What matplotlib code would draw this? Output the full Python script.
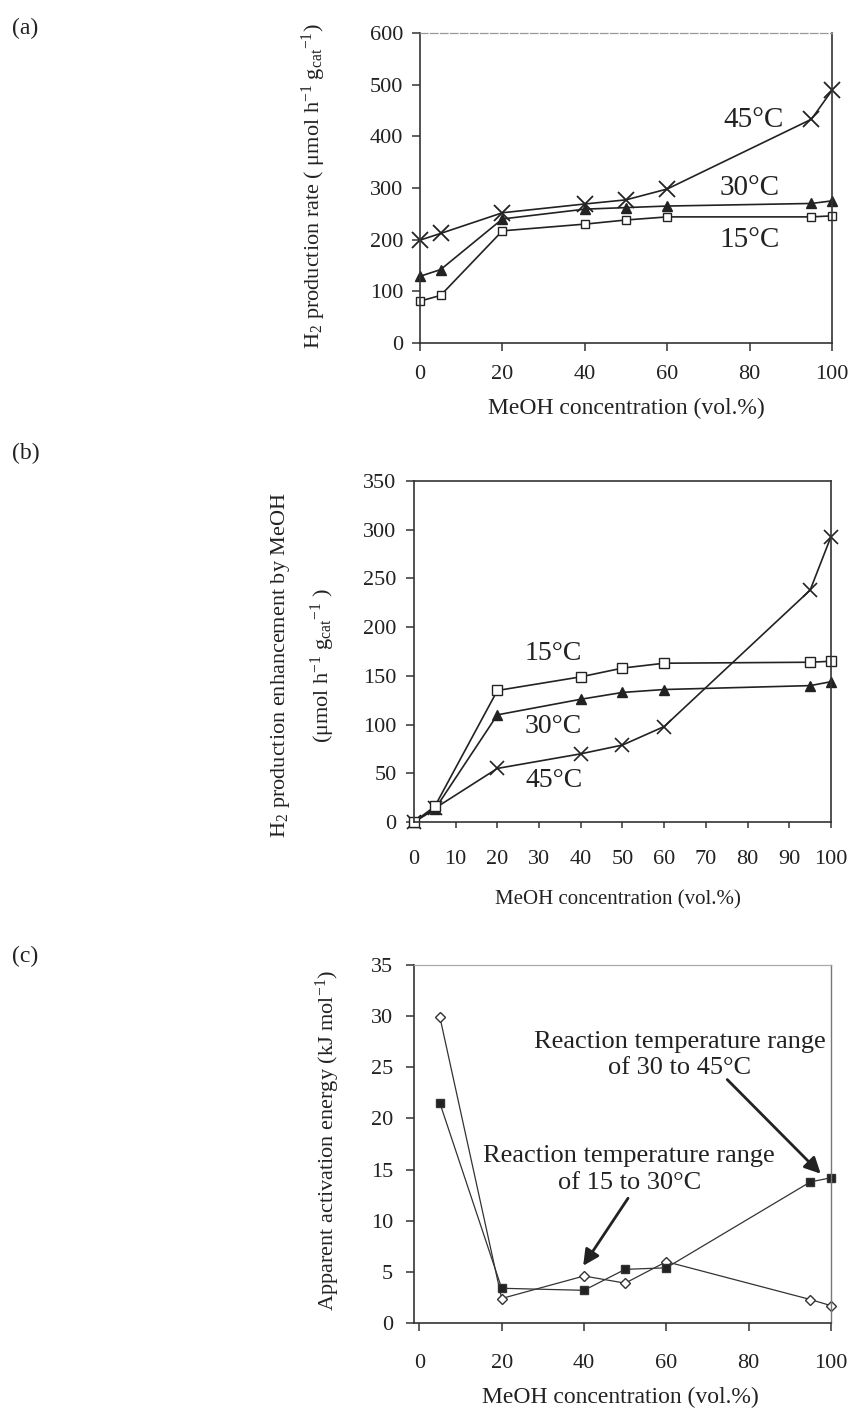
import matplotlib
matplotlib.use("Agg")
from matplotlib import pyplot as plt

plt.rcParams['font.family'] = ['Liberation Serif', 'DejaVu Serif']
plt.rcParams['mathtext.fontset'] = 'custom'
plt.rcParams['mathtext.rm'] = 'Liberation Serif'
plt.rcParams['mathtext.it'] = 'Liberation Serif:italic'

INK = '#222222'

##################
##Data (read off)##
##################
# (a) H2 production rate, umol/h/gcat
meoh_a = [0, 5, 20, 40, 50, 60, 95, 100]
rate_15 = [81, 92, 217, 230, 238, 244, 244, 246]
rate_30 = [129, 142, 240, 259, 262, 265, 270, 275]
rate_45 = [199, 212, 252, 269, 277, 298, 433, 489]

# (b) enhancement by MeOH
meoh_b = [0, 5, 20, 40, 50, 60, 95, 100]
enh_15 = [0, 16, 135, 149, 158, 163, 164, 165]
enh_30 = [0, 13, 110, 126, 133, 136, 140, 144]
enh_45 = [0, 14, 55, 70, 79, 98, 238, 293]

# (c) apparent activation energy, kJ/mol
meoh_c = [5, 20, 40, 50, 60, 95, 100]
ea_15_30 = [29.9, 2.4, 4.6, 3.9, 6.0, 2.3, 1.7]
ea_30_45 = [21.5, 3.4, 3.2, 5.25, 5.4, 13.8, 14.2]

xticks_a = [0, 20, 40, 60, 80, 100]
yticks_a = [0, 100, 200, 300, 400, 500, 600]
xticks_b = [0, 10, 20, 30, 40, 50, 60, 70, 80, 90, 100]
yticks_b = [0, 50, 100, 150, 200, 250, 300, 350]
xticks_c = [0, 20, 40, 60, 80, 100]
yticks_c = [0, 5, 10, 15, 20, 25, 30, 35]

xlab = 'MeOH concentration (vol.%)'

fig = plt.figure(figsize=(8.53, 14.09), dpi=100)
ax_a = fig.add_axes([0.4924, 0.7566, 0.4830, 0.2200])
ax_b = fig.add_axes([0.4853, 0.4166, 0.4889, 0.2420])
ax_c = fig.add_axes([0.4853, 0.0610, 0.4889, 0.2541])


def style(ax, xpad, ypad):
    for s in ['left', 'bottom', 'right', 'top']:
        ax.spines[s].set_color('#333333')
        ax.spines[s].set_linewidth(1.2)
    ax.tick_params(direction='out', length=6, width=1.1, color='#333333',
                   labelsize=16, labelcolor=INK)
    ax.tick_params(axis='x', pad=xpad)
    ax.tick_params(axis='y', pad=ypad)


############
##Panel a ##
############
style(ax_a, 10, 6)
ax_a.spines['top'].set_color('#999999')
ax_a.spines['top'].set_linestyle((0, (6, 2)))
ax_a.spines['top'].set_linewidth(0.9)
ax_a.plot(meoh_a, rate_45, color=INK, lw=1.2, marker='x', ms=11, mew=1.3, clip_on=False)
ax_a.plot(meoh_a, rate_30, color=INK, lw=1.2, marker='^', ms=6.5, mfc=INK, clip_on=False)
ax_a.plot(meoh_a, rate_15, color=INK, lw=1.2, marker='s', ms=6, mfc='white', mew=1, clip_on=False)
ax_a.set_xlim(0, 100)
ax_a.set_ylim(0, 600)
ax_a.set_xticks(xticks_a)
ax_a.set_yticks(yticks_a)
ax_a.text(81, 432, '45°C', fontsize=21, ha='center', va='center', color=INK)
ax_a.text(80, 299, '30°C', fontsize=21, ha='center', va='center', color=INK)
ax_a.text(80, 199, '15°C', fontsize=21, ha='center', va='center', color=INK)
ax_a.set_xlabel(xlab, fontsize=17, color=INK, va='center')
ax_a.xaxis.set_label_coords(0.5, -0.212)
ax_a.set_ylabel(r'H$_2$ production rate ( μmol h$^{-1}$ g$_{\rm cat}$$^{-1}$)',
                fontsize=16, color=INK, va='center')
ax_a.yaxis.set_label_coords(-0.257, 0.506)

############
##Panel b ##
############
style(ax_b, 16, 6.5)
ax_b.tick_params(axis='x', length=4)
ax_b.plot(meoh_b, enh_45, color=INK, lw=1.2, marker='x', ms=10, mew=1.2, clip_on=False)
ax_b.plot(meoh_b, enh_30, color=INK, lw=1.2, marker='^', ms=7, mfc=INK, clip_on=False)
ax_b.plot(meoh_b, enh_15, color=INK, lw=1.2, marker='s', ms=7, mfc='white', mew=1, clip_on=False)
ax_b.set_xlim(0, 100)
ax_b.set_ylim(0, 350)
ax_b.set_xticks(xticks_b)
ax_b.set_yticks(yticks_b)
ax_b.text(33.5, 173, '15°C', fontsize=20, ha='center', va='center', color=INK)
ax_b.text(33.5, 98, '30°C', fontsize=20, ha='center', va='center', color=INK)
ax_b.text(33.5, 43, '45°C', fontsize=20, ha='center', va='center', color=INK)
ax_b.set_xlabel(xlab, fontsize=15, color=INK, va='center')
ax_b.xaxis.set_label_coords(0.489, -0.229)
ax_b.text(-0.319, 0.46, r'H$_2$ production enhancement by MeOH', transform=ax_b.transAxes,
          rotation=90, fontsize=16, ha='center', va='center', color=INK)
ax_b.text(-0.218, 0.46, r'(μmol h$^{-1}$ g$_{\rm cat}$$^{-1}$ )', transform=ax_b.transAxes,
          rotation=90, fontsize=16, ha='center', va='center', color=INK)

############
##Panel c ##
############
style(ax_c, 16, 9)
ax_c.spines['top'].set_color('#aaaaaa')
ax_c.spines['top'].set_linewidth(0.9)
ax_c.spines['right'].set_color('#777777')
ax_c.spines['right'].set_linewidth(1.0)
ax_c.plot(meoh_c, ea_15_30, color='#333333', lw=0.9, marker='D', ms=5, mfc='white', mew=1, clip_on=False)
ax_c.plot(meoh_c, ea_30_45, color='#333333', lw=0.9, marker='s', ms=6, mfc=INK, clip_on=False)
ax_c.set_xlim(-1.3, 100)
ax_c.set_ylim(0, 35)
ax_c.set_xticks(xticks_c)
ax_c.set_yticks(yticks_c)
ax_c.text(51, 15.0, 'Reaction temperature range\nof 15 to 30°C', fontsize=19,
          ha='center', va='center', linespacing=1.3, color=INK)
ax_c.text(63.3, 26.2, 'Reaction temperature range\nof 30 to 45°C', fontsize=19,
          ha='center', va='center', linespacing=1.25, color=INK)
arrow = dict(arrowstyle='-|>', color=INK, lw=2, mutation_scale=24, shrinkA=0, shrinkB=0)
ax_c.annotate('', xy=(39.8, 5.6), xytext=(50.7, 12.2), arrowprops=arrow)
ax_c.annotate('', xy=(97.5, 14.6), xytext=(74.8, 23.8), arrowprops=arrow)
ax_c.set_xlabel(xlab, fontsize=17, color=INK, va='center')
ax_c.xaxis.set_label_coords(0.494, -0.209)
ax_c.set_ylabel('Apparent activation energy (kJ mol$^{-1}$)', fontsize=16, color=INK, va='center')
ax_c.yaxis.set_label_coords(-0.206, 0.511)

##################
##Panel captions##
##################
fig.text(12 / 853, 1 - 28 / 1409, '(a)', fontsize=17, va='center', color=INK)
fig.text(12 / 853, 1 - 453 / 1409, '(b)', fontsize=17, va='center', color=INK)
fig.text(12 / 853, 1 - 956 / 1409, '(c)', fontsize=17, va='center', color=INK)

fig.savefig('out.png', dpi=100)
